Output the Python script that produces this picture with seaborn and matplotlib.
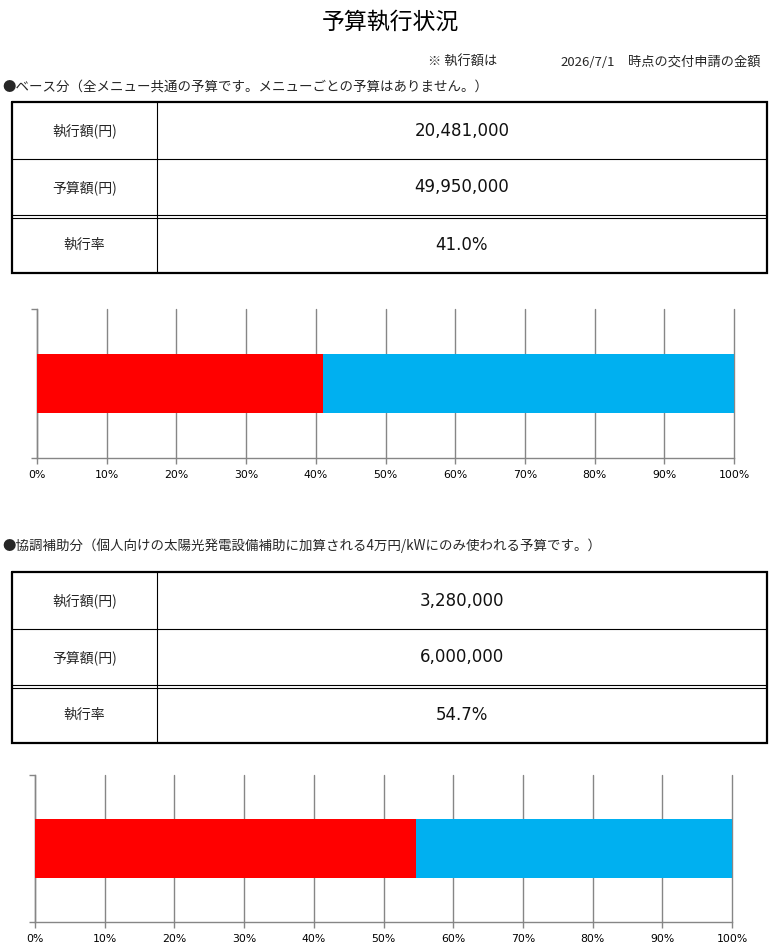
import matplotlib
matplotlib.use("Agg")
import matplotlib.pyplot as plt
from matplotlib.ticker import PercentFormatter
import seaborn as sns
import pandas as pd

# ---------------- data ----------------
page_title = "予算執行状況"
note_prefix = "※ 執行額は"
note_date = "2026/7/1"
note_suffix = "時点の交付申請の金額"
section_titles = [
    "●ベース分（全メニュー共通の予算です。メニューごとの予算はありません。）",
    "●協調補助分（個人向けの太陽光発電設備補助に加算される4万円/kWにのみ使われる予算です。）",
]
section_keys = ["ベース分", "協調補助分"]
executed = [20481000, 3280000]      # 執行額(円)
budget = [49950000, 6000000]        # 予算額(円)
row_labels = ["執行額(円)", "予算額(円)", "執行率"]
x_ticks = [0.0, 0.1, 0.2, 0.3, 0.4, 0.5, 0.6, 0.7, 0.8, 0.9, 1.0]
total_share = [1.0, 1.0]
color_exec = "#FF0000"
color_rest = "#00B0F0"
grid_color = "#868686"

# ---------------- style ----------------
sns.set_style("white")
plt.rcParams["font.family"] = ["Noto Sans CJK JP", "DejaVu Sans"]

W, H = 779, 951
fig = plt.figure(figsize=(W / 100, H / 100), dpi=100)
bg = fig.add_axes([0, 0, 1, 1], zorder=0)
bg.set_xlim(0, W)
bg.set_ylim(H, 0)
bg.axis("off")

# header texts
bg.text(390, 22, page_title, ha="center", va="center", fontsize=16.5, color="black")
bg.text(428, 62, note_prefix, ha="left", va="center", fontsize=9.5)
bg.text(615, 62, note_date, ha="right", va="center", fontsize=9.5)
bg.text(628, 62, note_suffix, ha="left", va="center", fontsize=9.5)

table_tops = [102, 572]
heading_y = [87, 546]
chart_boxes = [(37, 734, 309, 458), (35, 732, 775, 922)]
tbl_left, tbl_right, tbl_div = 12, 767, 157
row_h = 57

for i in range(2):
    bg.text(2, heading_y[i], section_titles[i], ha="left", va="center", fontsize=9.7)
    top = table_tops[i]
    bottom = top + 3 * row_h
    # inner lines
    bg.plot([tbl_div, tbl_div], [top, bottom], color="black", lw=0.8)
    bg.plot([tbl_left, tbl_right], [top + row_h, top + row_h], color="black", lw=0.8)
    bg.plot([tbl_left, tbl_right], [top + 2 * row_h - 1.5] * 2, color="black", lw=0.8)
    bg.plot([tbl_left, tbl_right], [top + 2 * row_h + 1.5] * 2, color="black", lw=0.8)
    # outer border
    bg.plot([tbl_left, tbl_right, tbl_right, tbl_left, tbl_left],
            [top, top, bottom, bottom, top], color="black", lw=1.6,
            solid_joinstyle="miter")
    values = [f"{executed[i]:,}", f"{budget[i]:,}", f"{executed[i] / budget[i]:.1%}"]
    for r in range(3):
        cy = top + r * row_h + row_h / 2
        bg.text((tbl_left + tbl_div) / 2, cy, row_labels[r], ha="center", va="center",
                fontsize=10)
        bg.text((tbl_div + tbl_right) / 2, cy, values[r], ha="center", va="center",
                fontsize=12, family=["DejaVu Sans"], color="#111111")

    # chart
    x0, x1, y0, y1 = chart_boxes[i]
    ax = fig.add_axes([x0 / W, 1 - y1 / H, (x1 - x0) / W, (y1 - y0) / H], zorder=2)
    df_total = pd.DataFrame({"key": [section_keys[i]], "share": [total_share[i]]})
    df_exec = pd.DataFrame({"key": [section_keys[i]],
                            "share": [executed[i] / budget[i]]})
    sns.barplot(data=df_total, x="share", y="key", orient="h", color=color_rest,
                saturation=1, width=0.4, ax=ax, zorder=3)
    sns.barplot(data=df_exec, x="share", y="key", orient="h", color=color_exec,
                saturation=1, width=0.4, ax=ax, zorder=4)
    for p in ax.patches:
        p.set_linewidth(0)
    ax.set_xlim(0, 1.0)
    ax.set_ylim(0.5, -0.5)
    ax.set_xticks(x_ticks)
    ax.xaxis.set_major_formatter(PercentFormatter(1.0, decimals=0))
    ax.set_yticks([-0.5, 0.5])
    ax.set_yticklabels([])
    ax.set_xlabel("")
    ax.set_ylabel("")
    ax.grid(axis="x", color=grid_color, lw=1.0)
    ax.set_axisbelow(True)
    for gl in ax.get_xgridlines():
        gl.set_clip_on(False)
    for s in ["top", "right"]:
        ax.spines[s].set_visible(False)
    for s in ["left", "bottom"]:
        ax.spines[s].set_color(grid_color)
        ax.spines[s].set_linewidth(1.0)
    ax.tick_params(axis="x", direction="out", length=4, width=1, color=grid_color,
                   labelsize=7.8, labelcolor="black", pad=5, bottom=True)
    ax.tick_params(axis="y", direction="out", length=4, width=1, color=grid_color,
                   left=True)
    for lab in ax.get_xticklabels():
        lab.set_family(["DejaVu Sans"])

fig.savefig("out.png", dpi=100)
